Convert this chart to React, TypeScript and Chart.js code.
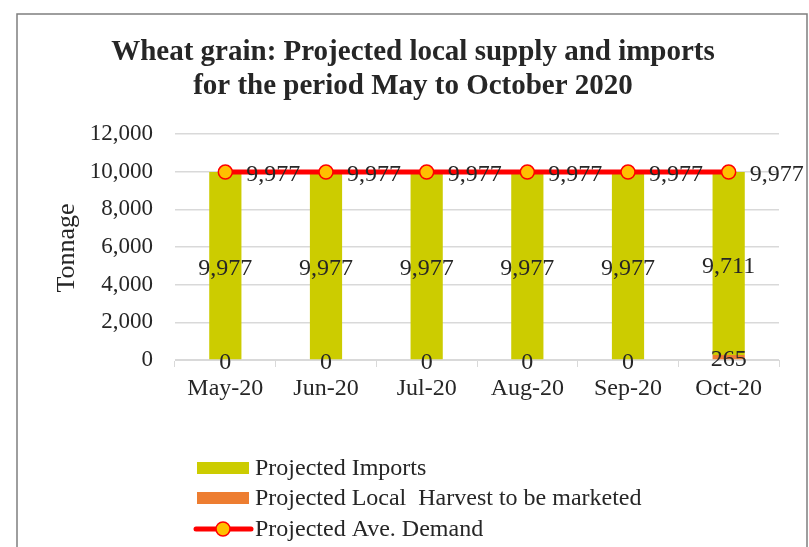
import React, { useEffect, useRef } from "react";
import { Chart, registerables } from "chart.js";

Chart.register(...registerables);

const categories = ["May-20", "Jun-20", "Jul-20", "Aug-20", "Sep-20", "Oct-20"];
const projectedImports = [9977, 9977, 9977, 9977, 9977, 9711];
const localHarvest = [0, 0, 0, 0, 0, 265];
const aveDemand = [9977, 9977, 9977, 9977, 9977, 9977];
const yMin = 0;
const yMax = 12000;
const yStep = 2000;

const titleLines = [
  "Wheat grain: Projected local supply and imports",
  "for the period May to October 2020",
];
const yAxisTitle = "Tonnage";
const legendLabels = [
  "Projected Imports",
  "Projected Local  Harvest to be marketed",
  "Projected Ave. Demand",
];

const SERIF = "'Liberation Serif', 'Times New Roman', serif";
const IMPORT_COLOR = "#CCCC00";
const LOCAL_COLOR = "#ED7D31";
const LINE_COLOR = "#FF0000";
const MARKER_FILL = "#FFC000";
const TEXT_COLOR = "#262626";
const fmt = (v: number) => v.toLocaleString("en-US");

const decorPlugin = {
  id: "decor",
  beforeDraw(chart: any) {
    const ctx = chart.ctx;
    ctx.save();
    ctx.fillStyle = "#ffffff";
    ctx.fillRect(0, 0, chart.width, chart.height);
    ctx.strokeStyle = "#7f7f7f";
    ctx.lineWidth = 1.5;
    ctx.beginPath();
    ctx.moveTo(17, chart.height + 5);
    ctx.lineTo(17, 14);
    ctx.lineTo(807, 14);
    ctx.lineTo(807, chart.height + 5);
    ctx.stroke();
    ctx.restore();
  },
  afterDraw(chart: any) {
    const ctx = chart.ctx;
    const area = chart.chartArea;
    ctx.save();
    // title
    ctx.fillStyle = TEXT_COLOR;
    ctx.font = `bold 29px ${SERIF}`;
    ctx.textAlign = "center";
    ctx.textBaseline = "middle";
    const cx = 413;
    ctx.fillText(titleLines[0], cx, 53);
    ctx.fillText(titleLines[1], cx, 87);
    // y axis title
    ctx.save();
    ctx.translate(67, (area.top + area.bottom) / 2 + 1);
    ctx.rotate(-Math.PI / 2);
    ctx.font = `26px ${SERIF}`;
    ctx.fillText(yAxisTitle, 0, 0);
    ctx.restore();
    // legend
    ctx.font = `24px ${SERIF}`;
    ctx.textAlign = "left";
    const lx = 197;
    const rows = [468, 498, 529];
    ctx.fillStyle = IMPORT_COLOR;
    ctx.fillRect(lx, rows[0] - 6, 52, 12);
    ctx.fillStyle = LOCAL_COLOR;
    ctx.fillRect(lx, rows[1] - 6, 52, 12);
    ctx.strokeStyle = LINE_COLOR;
    ctx.lineWidth = 5;
    ctx.lineCap = "round";
    ctx.beginPath();
    ctx.moveTo(lx - 1, rows[2]);
    ctx.lineTo(lx + 54, rows[2]);
    ctx.stroke();
    ctx.beginPath();
    ctx.arc(lx + 26, rows[2], 7, 0, Math.PI * 2);
    ctx.fillStyle = MARKER_FILL;
    ctx.fill();
    ctx.lineWidth = 1.5;
    ctx.stroke();
    ctx.fillStyle = TEXT_COLOR;
    legendLabels.forEach((t, i) => ctx.fillText(t, lx + 58, rows[i] + 1));
    ctx.restore();
  },
  afterDatasetsDraw(chart: any) {
    const ctx = chart.ctx;
    ctx.save();
    ctx.fillStyle = TEXT_COLOR;
    ctx.font = `24px ${SERIF}`;
    ctx.textBaseline = "middle";
    chart.data.datasets.forEach((ds: any, di: number) => {
      const meta = chart.getDatasetMeta(di);
      meta.data.forEach((el: any, i: number) => {
        const v = ds.data[i];
        if (ds.type === "line") {
          ctx.textAlign = "left";
          ctx.fillText(fmt(v), el.x + 21, el.y + 3);
        } else {
          ctx.textAlign = "center";
          ctx.fillText(fmt(v), el.x, (el.y + el.base) / 2 + 3);
        }
      });
    });
    ctx.restore();
  },
};

export default function App() {
  const ref = useRef<HTMLCanvasElement>(null);
  useEffect(() => {
    document.body.style.margin = "0";
    const chart = new Chart(ref.current as HTMLCanvasElement, {
      type: "bar",
      data: {
        labels: categories,
        datasets: [
          {
            type: "line",
            label: legendLabels[2],
            data: aveDemand,
            borderColor: LINE_COLOR,
            borderWidth: 5,
            pointRadius: 7,
            pointBackgroundColor: MARKER_FILL,
            pointBorderColor: LINE_COLOR,
            pointBorderWidth: 1.5,
            order: 0,
            stack: "line",
          } as any,
          {
            type: "bar",
            label: legendLabels[1],
            data: localHarvest,
            backgroundColor: LOCAL_COLOR,
            order: 1,
            stack: "s",
            barPercentage: 0.32,
            categoryPercentage: 1,
          },
          {
            type: "bar",
            label: legendLabels[0],
            data: projectedImports,
            backgroundColor: IMPORT_COLOR,
            order: 1,
            stack: "s",
            barPercentage: 0.32,
            categoryPercentage: 1,
          },
        ],
      },
      plugins: [decorPlugin],
      options: {
        responsive: false,
        animation: false,
        devicePixelRatio: 1,
        layout: { padding: { top: 134, right: 30, left: 0, bottom: 0 } },
        plugins: {
          legend: { display: false },
          title: { display: false },
          tooltip: { enabled: false },
        },
        scales: {
          x: {
            stacked: true,
            grid: {
              drawOnChartArea: false,
              drawTicks: true,
              tickLength: 7,
              color: "#d9d9d9",
              offset: true,
            },
            border: { display: true, color: "#d9d9d9" },
            ticks: {
              color: TEXT_COLOR,
              font: { family: SERIF, size: 24 },
              padding: 7,
              maxRotation: 0,
            },
            afterFit(scale: any) {
              scale.height = 187;
            },
          },
          y: {
            stacked: true,
            min: yMin,
            max: yMax,
            ticks: {
              stepSize: yStep,
              color: TEXT_COLOR,
              font: { family: SERIF, size: 23 },
              padding: 22,
              callback: (v: any) => fmt(Number(v)),
            },
            grid: { color: "#d9d9d9", drawTicks: false, lineWidth: 1.5 },
            border: { display: false },
            afterFit(scale: any) {
              scale.width = 175;
            },
          },
        },
      },
    });
    return () => chart.destroy();
  }, []);
  return <canvas ref={ref} width={809} height={547} />;
}
